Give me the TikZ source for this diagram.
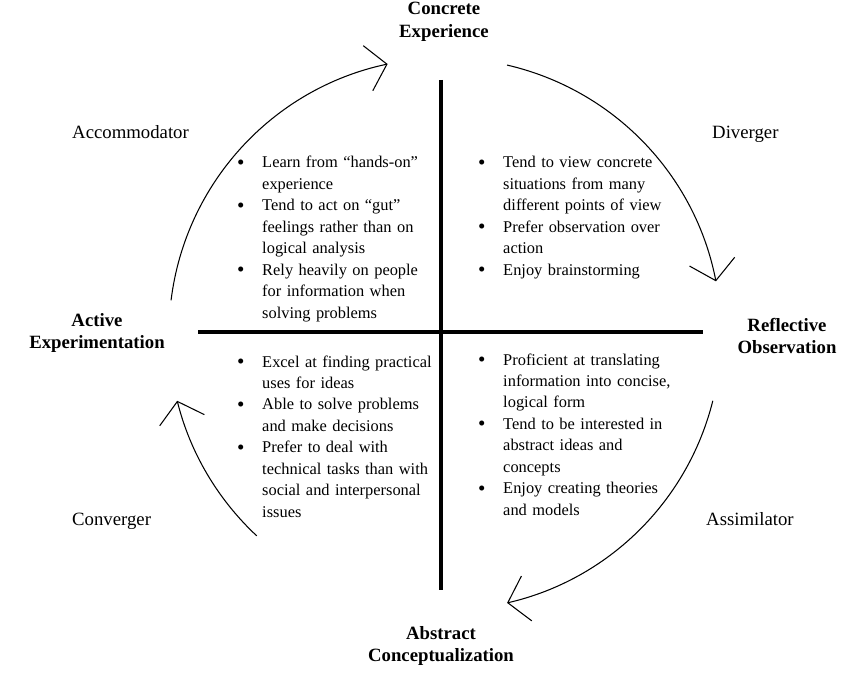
\documentclass[tikz,border=0pt]{standalone}
\usepackage{fontspec}
\setmainfont{Liberation Serif}
\usetikzlibrary{arrows.meta}

\newlength{\bulletgap}
\setlength{\bulletgap}{0.75cm}
\newcommand{\kitem}[1]{\hangindent=\bulletgap\hangafter=1\noindent
  \makebox[\bulletgap][l]{\raisebox{-1.3pt}{\fontsize{18}{18}\selectfont\textbullet}}{\let\\\newline#1}\par}

\tikzset{
  stage/.style={font=\bfseries\fontsize{16}{19.5}\selectfont, align=center, inner sep=0pt},
  learner/.style={font=\fontsize{16}{19}\selectfont, anchor=base west, inner sep=0pt},
  quad/.style={font=\fontsize{14}{18.3}\selectfont, text width=7cm, anchor=base west, inner sep=0pt},
  axis/.style={line width=2.6pt},
  cyc/.style={line width=0.9pt, -{Straight Barb[length=0.58cm,width=1.38cm]}}
}

\begin{document}
\begin{tikzpicture}[x=0.03cm, y=0.03cm]
  \useasboundingbox (0,0) rectangle (850,-683);
  \coordinate (hub) at (445,-334);

  % stages
  \node[stage] (ce) at (444,-22) {Concrete\\Experience};
  \node[stage] (ro) at (787,-336) {Reflective\\Observation};
  \node[stage] (ac) at (441,-646) {Abstract\\Conceptualization};
  \node[stage] (ae) at (97,-333) {Active\\Experimentation};

  % learning styles
  \node[learner] (acc) at (72,-139) {Accommodator};
  \node[learner] (div) at (712,-139) {Diverger};
  \node[learner] (con) at (72,-525) {Converger};
  \node[learner] (ass) at (706,-525) {Assimilator};

  % cross
  \coordinate (top) at (441,-80);
  \coordinate (bot) at (441,-590);
  \coordinate (lft) at (198,-332);
  \coordinate (rgt) at (703,-332);
  \draw[axis] (top) -- (bot);
  \draw[axis] (lft) -- (rgt);

  % cycle arrows
  \foreach \a/\b in {173/102, 77/11, -14/-77, -133/-166}
    \draw[cyc] (hub) ++(\a:276) arc[start angle=\a, end angle=\b, radius=276];

  % quadrants
  \node[quad] (tl) at (237,-168) {%
    \kitem{Learn from “hands-on”\\experience}
    \kitem{Tend to act on “gut”\\feelings rather than on\\logical analysis}
    \kitem{Rely heavily on people\\for information when\\solving problems}};
  \node[quad] (tr) at (478,-168) {%
    \kitem{Tend to view concrete\\situations from many\\different points of view}
    \kitem{Prefer observation over\\action}
    \kitem{Enjoy brainstorming}};
  \node[quad] (bl) at (237,-367) {%
    \kitem{Excel at finding practical\\uses for ideas}
    \kitem{Able to solve problems\\and make decisions}
    \kitem{Prefer to deal with\\technical tasks than with\\social and interpersonal\\issues}};
  \node[quad] (br) at (478,-365) {%
    \kitem{Proficient at translating\\information into concise,\\logical form}
    \kitem{Tend to be interested in\\abstract ideas and\\concepts}
    \kitem{Enjoy creating theories\\and models}};
\end{tikzpicture}
\end{document}
